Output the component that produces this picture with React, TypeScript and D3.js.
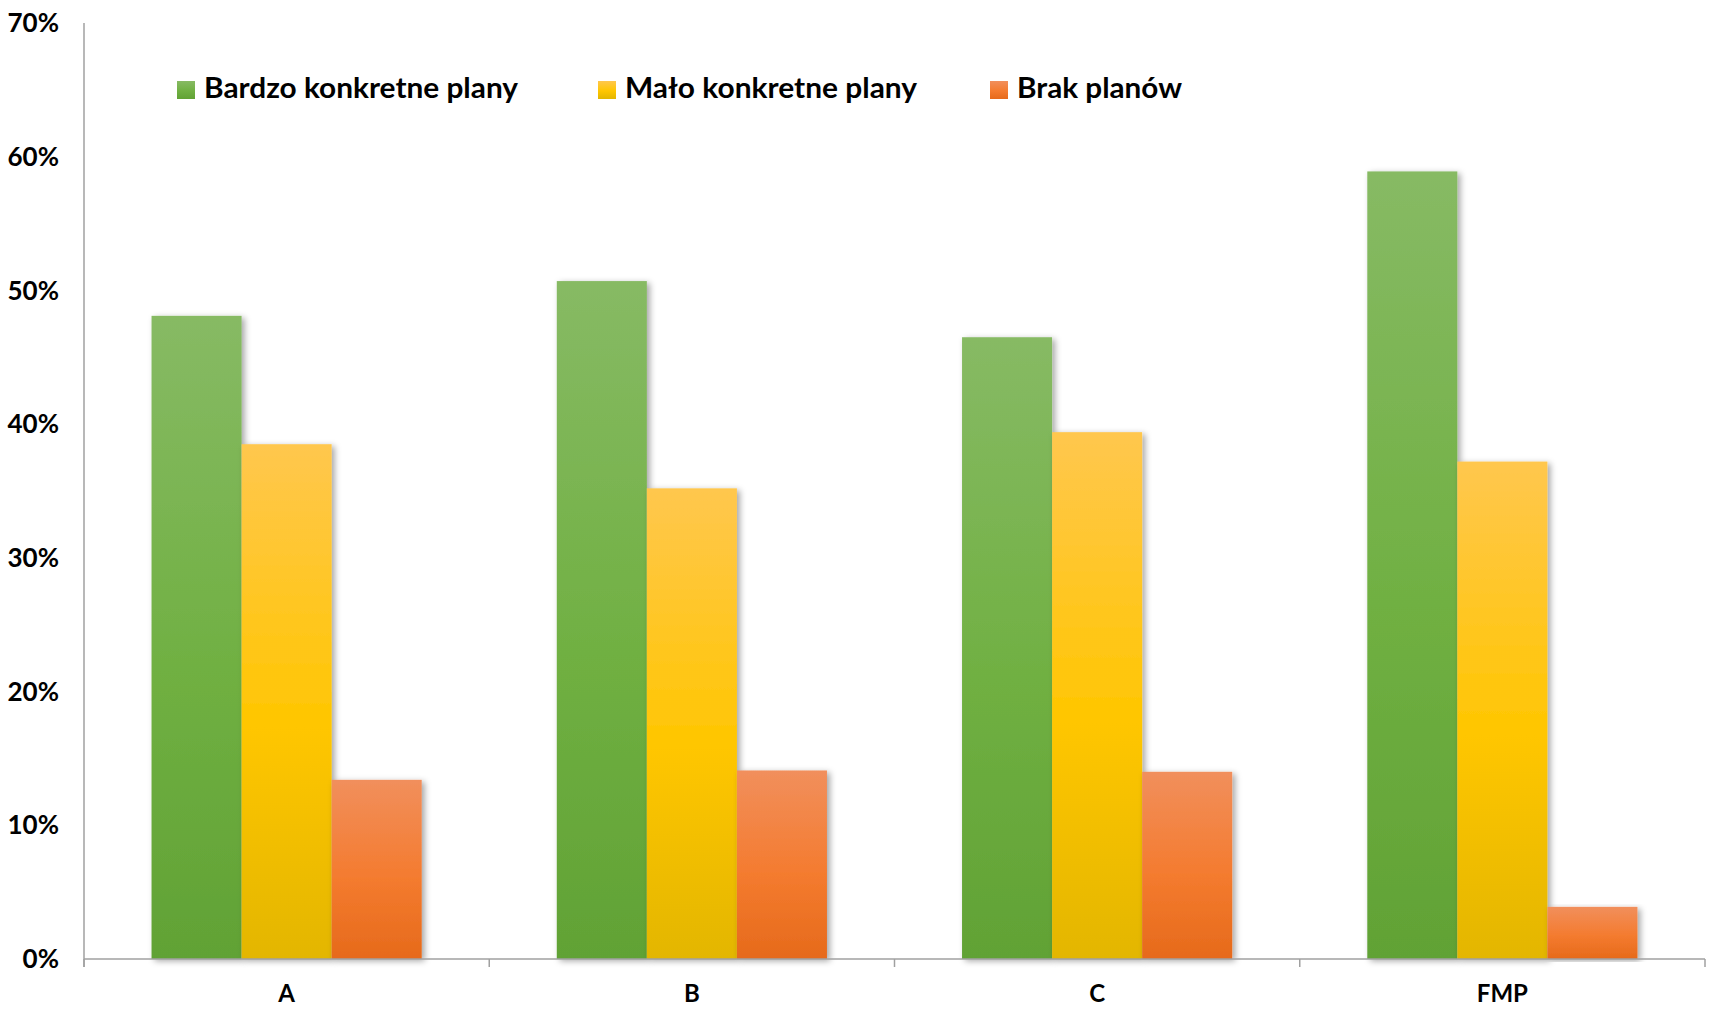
import React from "react";
import * as d3 from "d3";

const categories = ["A", "B", "C", "FMP"];
const seriesNames = ["Bardzo konkretne plany", "Mało konkretne plany", "Brak planów"];
const bardzo = [48.1, 50.7, 46.5, 58.9];
const malo = [38.5, 35.2, 39.4, 37.2];
const brak = [13.4, 14.1, 14.0, 3.9];
const yTicks = [0, 10, 20, 30, 40, 50, 60, 70];

const W = 1710;
const H = 1017;
const left = 84;
const right = 1705;
const top = 23;
const bottom = 959;

const gradients = [
  { id: "gGreen", stops: ["#87ba64", "#70b042", "#61a235"] },
  { id: "gYellow", stops: ["#ffc74e", "#ffc600", "#e3b600"] },
  { id: "gOrange", stops: ["#f18f5c", "#f47b2f", "#e66a1b"] },
];

const legendItems = [
  { sq: 177, tx: 204, tw: 314 },
  { sq: 598, tx: 625, tw: 292 },
  { sq: 990, tx: 1017, tw: 165 },
];

export default function App() {
  const series = [bardzo, malo, brak];
  const y = d3.scaleLinear().domain([0, 70]).range([bottom, top]);
  const x0 = d3.scaleBand<string>().domain(categories).range([left, right]).padding(0);
  const x1 = d3
    .scaleBand<number>()
    .domain([0, 1, 2])
    .range([0, x0.bandwidth()])
    .paddingInner(0)
    .paddingOuter(0.75);
  const font = "Lato, 'Open Sans', sans-serif";
  const boundaries = [...categories.map((c) => x0(c) as number), right];

  return (
    <svg
      width={W}
      height={H}
      style={{ position: "absolute", left: 0, top: 0, background: "#fff" }}
    >
      <defs>
        {gradients.map((g) => (
          <linearGradient key={g.id} id={g.id} x1="0" y1="0" x2="0" y2="1">
            <stop offset="0" stopColor={g.stops[0]} />
            <stop offset="0.55" stopColor={g.stops[1]} />
            <stop offset="1" stopColor={g.stops[2]} />
          </linearGradient>
        ))}
        <filter id="shadow" x="-20%" y="-5%" width="140%" height="110%">
          <feDropShadow dx="3" dy="2" stdDeviation="3" floodColor="#000" floodOpacity="0.35" />
        </filter>
        <filter id="lshadow" x="0" y="-200%" width="100%" height="500%">
          <feDropShadow dx="0" dy="2" stdDeviation="1.5" floodColor="#000" floodOpacity="0.12" />
        </filter>
      </defs>

      {/* grid lines */}
      {yTicks
        .filter((t) => t > 0)
        .map((t) => (
          <line
            key={t}
            x1={left}
            x2={right}
            y1={y(t)}
            y2={y(t)}
            stroke="#9a9a9a"
            strokeWidth={1}
            strokeDasharray="2,1"
            filter="url(#lshadow)"
          />
        ))}

      {/* y tick labels */}
      {yTicks.map((t) => (
        <text
          key={t}
          x={59}
          y={y(t)}
          dy="0.35em"
          textAnchor="end"
          fontFamily={font}
          fontWeight={700}
          fontSize={26}
          fill="#000"
        >
          {t}%
        </text>
      ))}

      {/* bars */}
      {categories.map((c, ci) => (
        <g key={c} transform={`translate(${x0(c)},0)`}>
          {series.map((s, si) => (
            <rect
              key={si}
              x={x1(si)}
              y={y(s[ci])}
              width={x1.bandwidth()}
              height={bottom - y(s[ci])}
              fill={`url(#${gradients[si].id})`}
              filter="url(#shadow)"
            />
          ))}
        </g>
      ))}

      {/* axes */}
      <line x1={left} x2={left} y1={top} y2={967} stroke="#a0a0a0" strokeWidth={1.5} />
      <line x1={left} x2={right} y1={bottom} y2={bottom} stroke="#a0a0a0" strokeWidth={1.5} />
      {boundaries.map((b, i) => (
        <line key={i} x1={b} x2={b} y1={bottom} y2={967} stroke="#a0a0a0" strokeWidth={1.5} />
      ))}

      {/* x labels */}
      {categories.map((c) => (
        <text
          key={c}
          x={(x0(c) as number) + x0.bandwidth() / 2}
          y={1002}
          textAnchor="middle"
          fontFamily={font}
          fontWeight={700}
          fontSize={24}
          fill="#000"
        >
          {c}
        </text>
      ))}

      {/* legend */}
      {seriesNames.map((n, i) => (
        <g key={n}>
          <rect
            x={legendItems[i].sq}
            y={81}
            width={18}
            height={18}
            fill={`url(#${gradients[i].id})`}
          />
          <text
            x={legendItems[i].tx}
            y={98}
            fontFamily={font}
            fontWeight={700}
            fontSize={29}
            fill="#000"
            textLength={legendItems[i].tw}
            lengthAdjust="spacingAndGlyphs"
          >
            {n}
          </text>
        </g>
      ))}
    </svg>
  );
}
